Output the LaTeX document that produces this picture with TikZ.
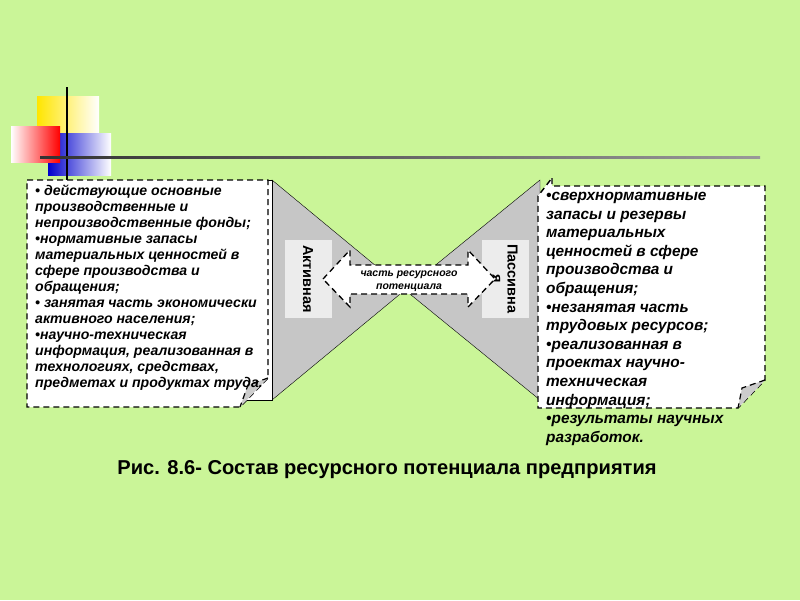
\documentclass[tikz,border=0pt]{standalone}
\usepackage{fontspec}
\setmainfont{Liberation Sans}
\definecolor{bg}{RGB}{202,245,152}
\tikzset{
  txtl/.style={font=\fontsize{14.1}{16}\selectfont\bfseries\itshape, align=left, anchor=north west, inner sep=0pt},
  txtr/.style={font=\fontsize{15.4}{18.6}\selectfont\bfseries\itshape, align=left, anchor=north west, inner sep=0pt},
  dsh/.style={dash pattern=on 6pt off 4pt},
  dbox/.style={draw=black, dsh, line width=1.4pt, fill=white},
  wedge/.style={fill=gray!45, draw=black, line width=0.4pt},
  lab/.style={fill=gray!15, minimum width=47pt, minimum height=78pt, inner sep=0pt}
}
\begin{document}
\begin{tikzpicture}[x=1pt,y=-1pt]
\useasboundingbox (0,0) rectangle (800,600);
\fill[bg] (0,0) rectangle (800,600);
% decoration
\shade[left color=yellow!80!orange, right color=white] (37,96) rectangle (99,148);
\shade[left color=blue!80!black, right color=white] (48,133) rectangle (111,175);
\shade[left color=white, right color=red] (11,126) rectangle (60,162);
\draw[line width=1.5pt] (67,87) -- (67,180);
\shade[left color=black!80, right color=black!40] (40,156) rectangle (760,158.5);
% wedges
\draw[wedge] (272,180) -- (405,290) -- (272,400) -- cycle;
\draw[wedge] (540,180) -- (405,290) -- (540,400) -- cycle;
\node[lab] (act) at (308,279) {};
\node[rotate=-90, font=\bfseries\fontsize{14.5}{15}\selectfont] (actt) at (308,279) {Активная};
\node[lab] (pas) at (505,279) {};
\node[rotate=-90, font=\bfseries\fontsize{14.5}{15}\selectfont, align=center] (past) at (505,279) {Пассивна\\я};
% double arrow
\draw[dsh, line width=1.3pt, fill=white] (323,279) -- (350,250) -- (350,265) -- (468,265) -- (468,250) -- (495,279) -- (468,307) -- (468,294) -- (350,294) -- (350,307) -- cycle;
\node[font=\bfseries\itshape\fontsize{10.5}{13}\selectfont, align=center] (mid) at (409,281) {часть ресурсного\\потенциала};
% left box
\draw[line width=1pt, fill=white] (30,180) rectangle (272,400);
\draw[dbox] (27,180) -- (268,180) -- (268,378) -- (240,407) -- (27,407) -- cycle;
\fill[gray!40] (268,378) -- (240,407) -- (248,385) -- cycle;
\draw[dsh, line width=1.2pt] (268,378) -- (248,385) -- (240,407);
\node[txtl] (lt) at (35,185) {• действующие основные\\производственные и\\непроизводственные фонды;\\•нормативные запасы\\материальных ценностей в\\сфере производства и\\обращения;\\• занятая часть экономически\\активного населения;\\•научно-техническая\\информация, реализованная в\\технологиях, средствах,\\предметах и продуктах труда.};
% right box
\draw[dbox] (552,178) -- (552,186) -- (765,186) -- (765,380) -- (738,408) -- (538,408) -- (538,196) -- cycle;
\fill[gray!40] (765,380) -- (738,408) -- (742,388) -- cycle;
\draw[dsh, line width=1.2pt] (765,380) -- (742,388) -- (738,408);
\node[txtr] (rt) at (546,192) {•сверхнормативные\\запасы и резервы\\материальных\\ценностей в сфере\\производства и\\обращения;\\•незанятая часть\\трудовых ресурсов;\\•реализованная в\\проектах научно-\\техническая\\информация;\\•результаты научных\\разработок.};
% title
\node[font=\bfseries\fontsize{20.1}{22}\selectfont] (title) at (387,470) {Рис. 8.6- Состав ресурсного потенциала предприятия};
\end{tikzpicture}
\end{document}
